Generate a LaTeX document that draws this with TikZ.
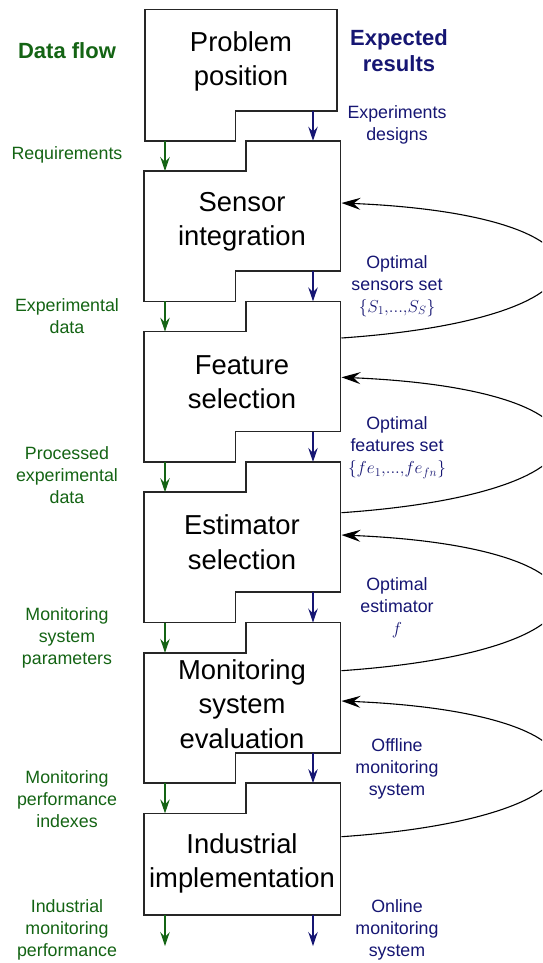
\documentclass[tikz,border=0pt]{standalone}
\usepackage{fontspec}
\setmainfont{Liberation Sans}
\usetikzlibrary{arrows.meta}
\definecolor{dgreen}{RGB}{20,100,20}
\definecolor{dblue}{RGB}{22,22,115}
\begin{document}
\begin{tikzpicture}[x=1pt,y=-1pt,
  boxline/.style={draw=black!85, line width=1.6pt, line join=miter},
  boxtext/.style={font=\fontsize{27.4}{34.5}\selectfont, align=center, inner sep=0pt},
  gtext/.style={text=dgreen, font=\fontsize{17.8}{22}\selectfont, align=center, inner sep=0pt},
  btext/.style={text=dblue, font=\fontsize{17.8}{22}\selectfont, align=center, inner sep=0pt},
  gtitle/.style={text=dgreen, font=\fontsize{22}{26}\selectfont\bfseries, align=center, inner sep=0pt},
  btitle/.style={text=dblue, font=\fontsize{22}{26.5}\selectfont\bfseries, align=center, inner sep=0pt},
  garrow/.style={draw=dgreen, line width=1.1pt, -{Stealth[length=14pt,width=9.5pt,inset=5pt]}},
  barrow/.style={draw=dblue, line width=1.1pt, -{Stealth[length=14pt,width=9.5pt,inset=5pt]}},
  fback/.style={draw=black, line width=1.1pt, -{Stealth[length=19pt,width=12pt,inset=7pt]}}]
\useasboundingbox (0,0) rectangle (542,963);
\fill[white] (0,0) rectangle (542,963);

% boxes
\draw[boxline] (145,9.5) -- (337,9.5) -- (337,111) -- (235.5,111) -- (235.5,140.7) -- (145,140.7) -- cycle;
\foreach \t in {140.7,301.3,461.9,622.5}{
  \draw[boxline] (246,\t) -- (340.5,\t) -- (340.5,{\t+130.3}) -- (235.5,{\t+130.3}) -- (235.5,{\t+160.6}) -- (143.7,{\t+160.6}) -- (143.7,{\t+30.3}) -- (246,{\t+30.3}) -- cycle;
}
\draw[boxline] (246,783.1) -- (340.5,783.1) -- (340.5,914.7) -- (143.7,914.7) -- (143.7,813.4) -- (246,813.4) -- cycle;

% box texts
\node[boxtext] (t1) at (241,61.2) {Problem\\position};
\node[boxtext] (t2) at (242,221.8) {Sensor\\integration};
\node[boxtext] (t3) at (242,382) {Feature\\selection};
\node[boxtext] (t4) at (242,542) {Estimator\\selection};
\node[boxtext] (t5) at (242,703.8) {Monitoring\\system\\evaluation};
\node[boxtext] (t6) at (242,863.6) {Industrial\\implementation};

% arrow end points
\coordinate (g1s) at (165,140.7);  \coordinate (g1e) at (165,171);
\coordinate (b1s) at (313,111);    \coordinate (b1e) at (313,140.7);
\foreach \i/\t in {2/140.7,3/301.3,4/461.9,5/622.5}{
  \coordinate (g\i s) at (165,{\t+160.6});
  \coordinate (g\i e) at (165,{\t+190.9});
  \coordinate (b\i s) at (313,{\t+130.3});
  \coordinate (b\i e) at (313,{\t+160.6});
}
\coordinate (g6s) at (165,914.7); \coordinate (g6e) at (165,946);
\coordinate (b6s) at (313,914.7); \coordinate (b6e) at (313,946);
\foreach \i in {1,...,6}{
  \draw[garrow] (g\i s) -- (g\i e);
  \draw[barrow] (b\i s) -- (b\i e);
}

% feedback curves
\begin{scope}
\clip (0,0) rectangle (542,963);
\foreach \i/\a/\b in {1/338/203,2/512.7/377.3,3/670.7/535,4/836.7/701}{
  \coordinate (fs\i) at (341.5,\a);
  \coordinate (fe\i) at (341.5,\b);
  \draw[fback] (fs\i) .. controls (630,{\a-20}) and (630,{\b+12}) .. (fe\i);
}
\end{scope}

% left labels
\node[gtitle] (lt) at (67,51) {Data flow};
\node[gtext] (l1) at (67,155.3) {Requirements};
\node[gtext] (l2) at (67,316) {Experimental\\data};
\node[gtext] (l3) at (67,475.5) {Processed\\experimental\\data};
\node[gtext] (l4) at (67,638) {Monitoring\\system\\parameters};
\node[gtext] (l5) at (67,799.5) {Monitoring\\performance\\indexes};
\node[gtext] (l6) at (67,929.9) {Industrial\\monitoring\\performance};

% right labels
\node[btitle] (rt) at (399,50.6) {Expected\\results};
\node[btext] (r1) at (397,124.5) {Experiments\\designs};
\node[btext] (r2) at (397,286) {Optimal\\sensors set\\$\{S_1{,}...{,}S_S\}$};
\node[btext] (r3) at (397,447.7) {Optimal\\features set\\$\{fe_1{,}...{,}fe_{fn}\}$};
\node[btext] (r4) at (397,608) {Optimal\\estimator\\$f$};
\node[btext] (r5) at (397,768.7) {Offline\\monitoring\\system};
\node[btext] (r6) at (397,929.5) {Online\\monitoring\\system};
\end{tikzpicture}
\end{document}
